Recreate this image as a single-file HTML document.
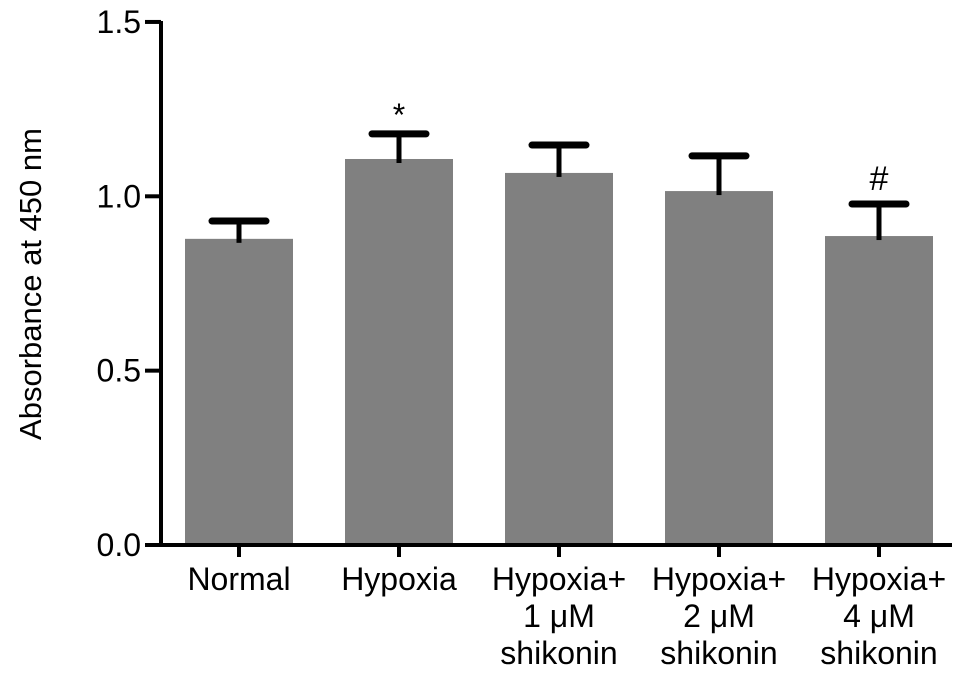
<!DOCTYPE html>
<html><head><meta charset="utf-8"><style>
body{margin:0;background:#fff;}
svg text{font-family:"Liberation Sans",sans-serif;fill:#000;}
</style></head><body>
<svg width="969" height="677">
<g id="chart"></g>
</svg>
<script>
const categories=[["Normal"],["Hypoxia"],["Hypoxia+","1 μM","shikonin"],["Hypoxia+","2 μM","shikonin"],["Hypoxia+","4 μM","shikonin"]];
const means=[0.878,1.107,1.067,1.015,0.886];
const errors=[0.051,0.072,0.080,0.101,0.092];
const marks=["","*","","","#"];
const yTicks=[0,0.5,1.0,1.5];
const yTickLabels=["0.0","0.5","1.0","1.5"];
const ns="http://www.w3.org/2000/svg";
const g=document.getElementById('chart');
const y0=545,pxPer=348.7,ax=161;
function y(v){return y0-v*pxPer;}
function x(i){return 239+i*160;}
function mk(t,a){const e=document.createElementNS(ns,t);for(const k in a)e.setAttribute(k,a[k]);g.appendChild(e);return e;}
means.forEach((m,i)=>{
 const r=mk('rect',{x:x(i)-54,y:y(m),width:108,height:y0-y(m),fill:'#808080'});
 
 
 const top=y(m+errors[i]);
 const l=mk('line',{x1:x(i),x2:x(i),y1:y(m)+4,y2:top,stroke:'#000','stroke-width':5});
 
 
 const c=mk('line',{x1:x(i)-27,x2:x(i)+27,y1:top,y2:top,stroke:'#000','stroke-width':7,'stroke-linecap':'round'});
 
 
 if(marks[i]){
  const t=mk('text',{x:x(i),y:top-(marks[i]=='*'?8:14),'text-anchor':'middle','font-size':marks[i]=='*'?32:34});
  t.textContent=marks[i];
  
  
 }
 categories[i].forEach((s,j)=>{
  const t=mk('text',{x:x(i),y:590+j*37,'text-anchor':'middle','font-size':32});
  t.textContent=s;
  
  
 });
});
const ya=mk('line',{x1:ax,x2:ax,y1:y(1.5)-1,y2:y0+2,stroke:'#000','stroke-width':4});


const xa=mk('line',{x1:ax-2,x2:952,y1:y0,y2:y0,stroke:'#000','stroke-width':4});


categories.forEach((c,i)=>{
 const t=mk('line',{x1:x(i),x2:x(i),y1:y0,y2:y0+12,stroke:'#000','stroke-width':4});
 
 
});
yTicks.forEach((v,i)=>{
 const t=mk('line',{x1:ax-16,x2:ax,y1:y(v),y2:y(v),stroke:'#000','stroke-width':4});
 
 
 const l=mk('text',{x:ax-20,y:y(v)+11,'text-anchor':'end','font-size':32});
 l.textContent=yTickLabels[i];
 
 
});
const yt=mk('text',{x:0,y:0,'text-anchor':'middle','font-size':31,transform:'translate(41,284) rotate(-90)'});
yt.textContent='Absorbance at 450 nm';


</script>
</body></html>
